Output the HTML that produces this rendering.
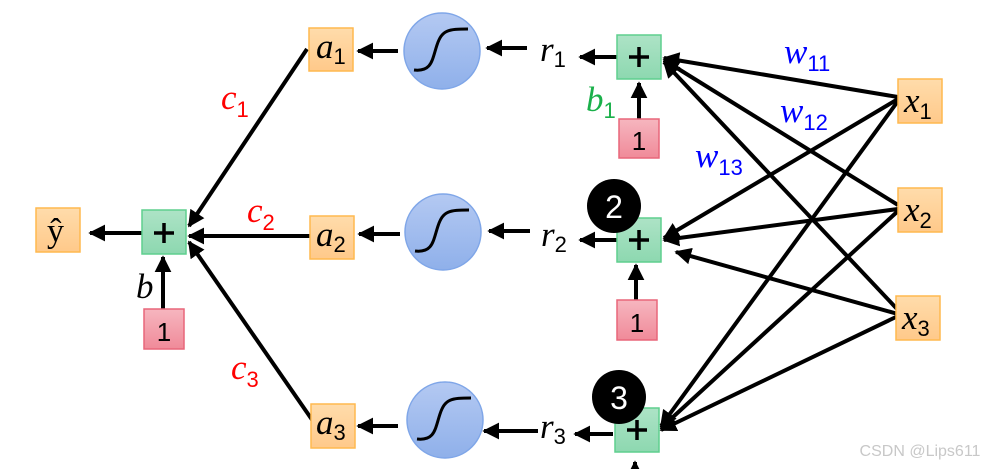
<!DOCTYPE html>
<html><head><meta charset="utf-8"><style>
body{margin:0;background:#fff}
svg{display:block}
.v{font-family:"Liberation Serif",serif;font-style:italic;font-size:35px}
.s{font-family:"Liberation Sans",sans-serif;font-style:normal;font-size:22px}
</style></head><body>
<svg width="993" height="469" viewBox="0 0 993 469" xmlns="http://www.w3.org/2000/svg">
<defs>
<marker id="ah" viewBox="0 0 10 10" refX="9" refY="5" markerWidth="4.2" markerHeight="4.2" orient="auto" markerUnits="strokeWidth"><path d="M0,0 L10,5 L0,10 z" fill="#000"/></marker>
<linearGradient id="go" x1="0" y1="0" x2="0" y2="1"><stop offset="0" stop-color="#ffdcab"/><stop offset="1" stop-color="#ffc98a"/></linearGradient>
<linearGradient id="gg" x1="0" y1="0" x2="0" y2="1"><stop offset="0" stop-color="#ade3c6"/><stop offset="1" stop-color="#8dd8b0"/></linearGradient>
<linearGradient id="gp" x1="0" y1="0" x2="0" y2="1"><stop offset="0" stop-color="#f6b6bf"/><stop offset="1" stop-color="#f08a99"/></linearGradient>
<linearGradient id="gb" x1="0" y1="0" x2="0" y2="1"><stop offset="0" stop-color="#b4c9f2"/><stop offset="1" stop-color="#8fb0ea"/></linearGradient>
</defs>
<g stroke="#000" stroke-width="4" fill="none" marker-end="url(#ah)">
<line x1="142" y1="233" x2="90" y2="233"/>
<line x1="163" y1="309" x2="163" y2="257"/>
<line x1="307" y1="49" x2="189" y2="226"/>
<line x1="310" y1="236" x2="189" y2="236"/>
<line x1="315" y1="424" x2="189" y2="242"/>
<line x1="398" y1="51" x2="358" y2="51"/>
<line x1="400" y1="234" x2="359" y2="234"/>
<line x1="398" y1="426" x2="358" y2="426"/>
<line x1="527" y1="48" x2="487" y2="48"/>
<line x1="530" y1="231" x2="489" y2="231"/>
<line x1="538" y1="431" x2="484" y2="431"/>
<line x1="617" y1="57" x2="580" y2="57"/>
<line x1="617" y1="240" x2="580" y2="240"/>
<line x1="613" y1="434" x2="575" y2="434"/>
<line x1="639" y1="119" x2="639" y2="83"/>
<line x1="636" y1="300" x2="636" y2="265"/>
<line x1="898" y1="97" x2="664" y2="58"/>
<line x1="898" y1="205" x2="664" y2="60"/>
<line x1="898" y1="310" x2="664" y2="62"/>
<line x1="898" y1="99" x2="664" y2="238"/>
<line x1="898" y1="209" x2="664" y2="240"/>
<line x1="898" y1="314" x2="676" y2="252"/>
<line x1="898" y1="101" x2="661" y2="426"/>
<line x1="898" y1="211" x2="661" y2="428"/>
<line x1="898" y1="316" x2="661" y2="430"/>
<line x1="635" y1="480" x2="635" y2="462"/>
</g>
<g stroke="#ffb94f" stroke-width="1.5">
<rect x="36" y="208" width="44" height="44" fill="url(#go)"/>
<rect x="309" y="28" width="44" height="43" fill="url(#go)"/>
<rect x="310" y="216" width="44" height="43" fill="url(#go)"/>
<rect x="311" y="404" width="44" height="44" fill="url(#go)"/>
<rect x="898" y="79" width="44" height="44" fill="url(#go)"/>
<rect x="898" y="188" width="44" height="44" fill="url(#go)"/>
<rect x="896" y="296" width="44" height="44" fill="url(#go)"/>
</g>
<g stroke="#5fcf8e" stroke-width="1.5" fill="url(#gg)">
<rect x="142" y="210" width="44" height="44"/>
<rect x="617" y="35" width="44" height="44"/>
<rect x="617" y="218" width="44" height="44"/>
<rect x="615" y="408" width="44" height="44"/>
</g>
<g stroke="#e8667a" stroke-width="1.5" fill="url(#gp)">
<rect x="144" y="309" width="40" height="40"/>
<rect x="619" y="119" width="40" height="39"/>
<rect x="617" y="300" width="40" height="40"/>
</g>
<g stroke="#7fa6e8" stroke-width="1.5" fill="url(#gb)">
<circle cx="442" cy="51" r="38"/>
<circle cx="443" cy="232" r="38"/>
<circle cx="445" cy="420" r="38"/>
</g>
<g stroke="#000" stroke-width="3" fill="none">
<path d="M414,70 C432,72 432,60 437,45 C442,30 448,29 468,29"/>
<path d="M415,251 C433,253 433,241 438,226 C443,211 449,210 469,210"/>
<path d="M417,439 C435,441 435,429 440,414 C445,399 451,398 471,398"/>
</g>
<g stroke="#000" stroke-width="3.5">
<path d="M154,233h20M164,223v20"/>
<path d="M629,57h20M639,47v20"/>
<path d="M629,240h20M639,230v20"/>
<path d="M627,430h20M637,420v20"/>
</g>
<circle cx="614" cy="206" r="27" fill="#000"/>
<circle cx="619" cy="397" r="27" fill="#000"/>
<g font-family="Liberation Sans,sans-serif" text-anchor="middle">
<text x="614" y="218" font-size="32" fill="#fff">2</text>
<text x="619" y="409" font-size="32" fill="#fff">3</text>
<text x="164" y="341" font-size="26">1</text>
<text x="639" y="150" font-size="26">1</text>
<text x="637" y="332" font-size="26">1</text>
<text x="920" y="456" font-size="16" fill="#c8c8c8">CSDN @Lips611</text>
</g>
<g class="v">
<text x="47" y="242" font-style="normal" font-size="34">ŷ</text>
<text x="136" y="298">b</text>
<text x="316" y="58">a<tspan class="s" dy="6">1</tspan></text>
<text x="316" y="246">a<tspan class="s" dy="6">2</tspan></text>
<text x="316" y="434">a<tspan class="s" dy="6">3</tspan></text>
<text x="221" y="109" fill="#f00">c<tspan class="s" dy="8">1</tspan></text>
<text x="247" y="222" fill="#f00">c<tspan class="s" dy="8">2</tspan></text>
<text x="231" y="379" fill="#f00">c<tspan class="s" dy="8">3</tspan></text>
<text x="540" y="61">r<tspan class="s" dy="6">1</tspan></text>
<text x="541" y="246">r<tspan class="s" dy="6">2</tspan></text>
<text x="540" y="438">r<tspan class="s" dy="6">3</tspan></text>
<text x="586" y="111" fill="#1ab04a">b<tspan class="s" dy="7">1</tspan></text>
<text x="904" y="112">x<tspan class="s" dy="7">1</tspan></text>
<text x="904" y="221">x<tspan class="s" dy="7">2</tspan></text>
<text x="902" y="329">x<tspan class="s" dy="7">3</tspan></text>
<text x="784" y="63" fill="#00f">w<tspan class="s" dy="8">11</tspan></text>
<text x="780" y="122" fill="#00f">w<tspan class="s" dy="8">12</tspan></text>
<text x="695" y="167" fill="#00f">w<tspan class="s" dy="8">13</tspan></text>
</g>
</svg>
</body></html>
